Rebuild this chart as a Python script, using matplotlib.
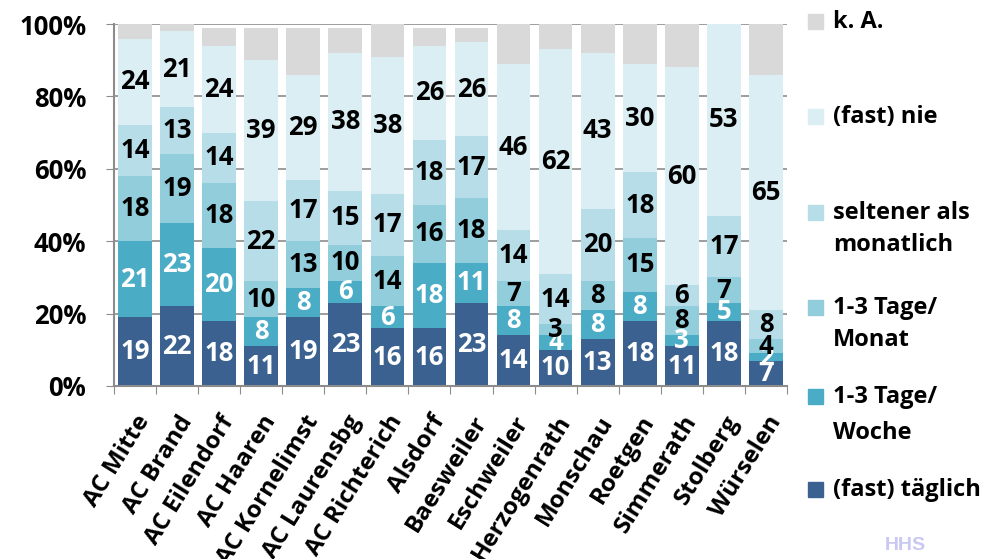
import matplotlib.pyplot as plt
import numpy as np
from matplotlib.patches import Rectangle
from matplotlib.transforms import ScaledTranslation

# data
orte = ['AC Mitte', 'AC Brand', 'AC Eilendorf', 'AC Haaren', 'AC Kornelimst',
        'AC Laurensbg', 'AC Richterich', 'Alsdorf', 'Baesweiler', 'Eschweiler',
        'Herzogenrath', 'Monschau', 'Roetgen', 'Simmerath', 'Stolberg', 'Würselen']
taeglich = [19, 22, 18, 11, 19, 23, 16, 16, 23, 14, 10, 13, 18, 11, 18, 7]
woche = [21, 23, 20, 8, 8, 6, 6, 18, 11, 8, 4, 8, 8, 3, 5, 2]
monat = [18, 19, 18, 10, 13, 10, 14, 16, 18, 7, 3, 8, 15, 8, 7, 4]
seltener = [14, 13, 14, 22, 17, 15, 17, 18, 17, 14, 14, 20, 18, 6, 17, 8]
nie = [24, 21, 24, 39, 29, 38, 38, 26, 26, 46, 62, 43, 30, 60, 53, 65]
k_a = [4, 2, 5, 9, 13, 7, 9, 5, 4, 11, 7, 8, 11, 12, 0, 14]

serien = [taeglich, woche, monat, seltener, nie, k_a]
namen = ['(fast) täglich', '1-3 Tage/\nWoche', '1-3 Tage/\nMonat',
         'seltener als\nmonatlich', '(fast) nie', 'k. A.']
farben = ['#3A6190', '#4BACC6', '#92CDDC', '#B7DEE8', '#DAEEF3', '#D9D9D9']
textfarben = ['white', 'white', 'black', 'black', 'black', None]

plt.rcParams['font.family'] = ['Open Sans', 'DejaVu Sans']
plt.rcParams['font.weight'] = 'bold'

fig = plt.figure(figsize=(9.85, 5.59), dpi=100)
ax = fig.add_axes([0.1157, 0.3095, 0.6833, 0.6475])

x = np.arange(len(orte))
unten = np.zeros(len(orte))
for werte, farbe, tf in zip(serien, farben, textfarben):
    werte = np.array(werte, dtype=float)
    ax.bar(x, werte, 0.8, bottom=unten, color=farbe, zorder=2)
    if tf is not None:
        for xi, b, w in zip(x, unten, werte):
            ax.text(xi, b + w / 2, str(int(w)), ha='center', va='center',
                    color=tf, fontsize=18.5, fontweight='bold', zorder=3)
    unten += werte

ax.set_xlim(-0.5, len(orte) - 0.5)
ax.set_ylim(0, 100)
ax.set_yticks(range(0, 101, 20))
ax.set_yticklabels([f'{v}%' for v in range(0, 101, 20)], fontsize=18.5, fontweight='bold')
ax.yaxis.grid(True, color='#8C8C8C', linewidth=1.2, zorder=0)
ax.set_axisbelow(True)

# category boundaries as ticks, names centred under the bars
ax.set_xticks(np.arange(-0.5, len(orte), 1.0))
ax.set_xticklabels([])
ax.set_xticks(x, minor=True)
ax.set_xticklabels(orte, minor=True, rotation=58, ha='right', va='top',
                   rotation_mode='anchor', fontsize=17.5, fontweight='bold')
for lab in ax.get_xticklabels(minor=True):
    lab.set_transform(lab.get_transform() + ScaledTranslation(0.08, 0, fig.dpi_scale_trans))
ax.tick_params(axis='x', which='minor', length=0, pad=18)
ax.tick_params(axis='x', which='major', length=6, color='#8C8C8C', direction='out')
ax.tick_params(axis='y', length=6, color='#8C8C8C', direction='out', pad=14)

for s in ['top', 'right']:
    ax.spines[s].set_visible(False)
for s in ['left', 'bottom']:
    ax.spines[s].set_color('#8C8C8C')
    ax.spines[s].set_linewidth(1.5)

# legend drawn by hand to keep Excel spacing (pixel rows of the text lines)
leg_y = [[490], [397, 433], [308, 340], [213, 245], [117], [22]]
for name, farbe, zeilen_y in zip(namen, farben, leg_y):
    zeilen = name.split('\n')
    y0 = 1 - zeilen_y[0] / 559
    fig.patches.append(Rectangle((808 / 985, y0 - 7 / 559), 15 / 985, 15 / 559,
                                 transform=fig.transFigure, color=farbe, figure=fig))
    for zeile, yp in zip(zeilen, zeilen_y):
        fig.text(833 / 985, 1 - yp / 559, zeile, ha='left', va='center',
                 fontsize=17, fontweight='bold')

fig.text(905 / 985, 1 - 546 / 559, 'HHS', ha='center', va='center',
         fontsize=14, fontweight='bold', color='#C8C8F0',
         family=['Liberation Sans', 'DejaVu Sans'])

fig.savefig('out.png', dpi=100)
